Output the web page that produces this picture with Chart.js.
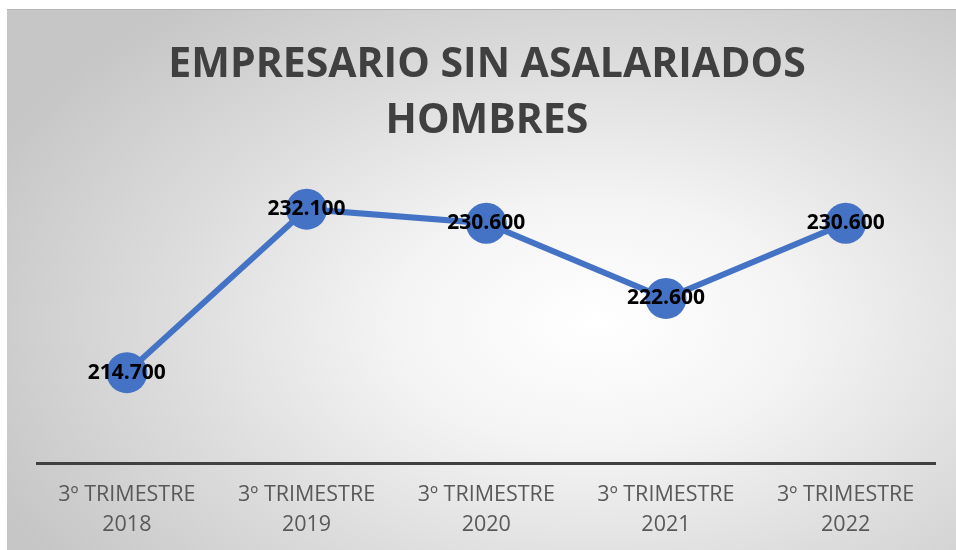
<!DOCTYPE html>
<html>
<head>
<meta charset="utf-8">
<script src="https://cdn.jsdelivr.net/npm/chart.js@4"></script>
<style>
  html, body { margin: 0; padding: 0; background: #ffffff; }
  #box {
    position: absolute; left: 7px; top: 9px; width: 949px; height: 541px;
    border-top: 1px solid #b4b4b4;
    box-sizing: border-box;
    background: radial-gradient(ellipse 70% 75% at 62% 58%, #ffffff 0%, #f4f4f4 30%, #dcdcdc 65%, #c6c6c6 100%);
  }
</style>
</head>
<body>
<div id="box"><canvas id="chart"></canvas></div>
<script>
const titleLines = ["EMPRESARIO SIN ASALARIADOS", "HOMBRES"];
const quarters = ["3º TRIMESTRE", "3º TRIMESTRE", "3º TRIMESTRE", "3º TRIMESTRE", "3º TRIMESTRE"];
const years = ["2018", "2019", "2020", "2021", "2022"];
const values = [214.7, 232.1, 230.6, 222.6, 230.6];

const blue = "#4472C4";

const formatValue = (v) => v.toFixed(3);

// draws the value on top of each marker
const valueLabels = {
  id: "valueLabels",
  afterDatasetsDraw(chart) {
    const ctx = chart.ctx;
    const meta = chart.getDatasetMeta(0);
    ctx.save();
    ctx.font = "bold 21px 'Open Sans'";
    ctx.fillStyle = "#000000";
    ctx.textAlign = "center";
    ctx.textBaseline = "middle";
    meta.data.forEach((point, i) => {
      ctx.fillText(formatValue(values[i]), point.x, point.y);
    });
    ctx.restore();
  },
};

new Chart(document.getElementById("chart"), {
  type: "line",
  data: {
    labels: quarters.map((q, i) => [q, years[i]]),
    datasets: [
      {
        data: values,
        borderColor: blue,
        borderWidth: 6,
        backgroundColor: blue,
        pointRadius: 20.5,
        pointBorderWidth: 0,
        pointBackgroundColor: blue,
        tension: 0,
        clip: false,
      },
    ],
  },
  options: {
    responsive: true,
    maintainAspectRatio: false,
    animation: false,
    layout: { padding: { top: 27, left: 30, right: 19, bottom: 8 } },
    plugins: {
      legend: { display: false },
      tooltip: { enabled: false },
      title: {
        display: true,
        text: titleLines,
        color: "#404040",
        font: { family: "'Open Sans'", size: 41, weight: "bold", lineHeight: 1.366 },
        padding: { top: 0, bottom: 0 },
      },
    },
    scales: {
      x: {
        offset: true,
        grid: { display: false, drawTicks: true, tickLength: 14 },
        border: { display: true, color: "#404040", width: 3 },
        ticks: {
          color: "#595959",
          font: { family: "'Open Sans'", size: 21.5, lineHeight: 1.4 },
          padding: 2,
          maxRotation: 0,
          autoSkip: false,
        },
      },
      y: {
        display: false,
        min: 205,
        max: 238.5,
      },
    },
  },
  plugins: [valueLabels],
});
</script>
</body>
</html>
